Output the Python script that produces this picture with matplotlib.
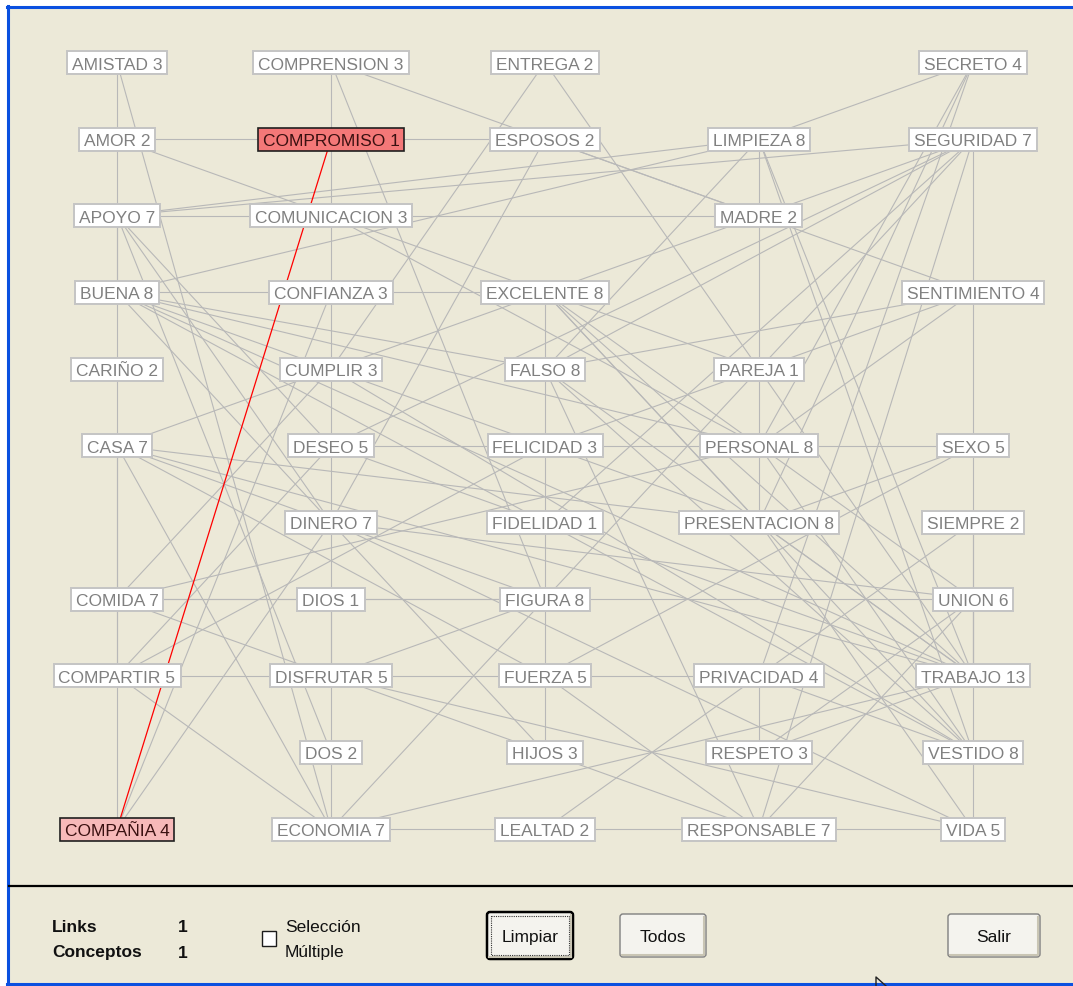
import matplotlib.pyplot as plt
from matplotlib.patches import Rectangle, FancyBboxPatch

plt.rcParams['font.family'] = ['Liberation Sans', 'DejaVu Sans']

# conceptos: nombre, numero de links, columna y fila en la rejilla
concepts = ['AMISTAD', 'AMOR', 'APOYO', 'BUENA', 'CARIÑO', 'CASA', 'COMIDA', 'COMPARTIR', 'COMPAÑIA',
            'COMPRENSION', 'COMPROMISO', 'COMUNICACION', 'CONFIANZA', 'CUMPLIR', 'DESEO', 'DINERO',
            'DIOS', 'DISFRUTAR', 'DOS', 'ECONOMIA',
            'ENTREGA', 'ESPOSOS', 'EXCELENTE', 'FALSO', 'FELICIDAD', 'FIDELIDAD', 'FIGURA', 'FUERZA',
            'HIJOS', 'LEALTAD',
            'LIMPIEZA', 'MADRE', 'PAREJA', 'PERSONAL', 'PRESENTACION', 'PRIVACIDAD', 'RESPETO', 'RESPONSABLE',
            'SECRETO', 'SEGURIDAD', 'SENTIMIENTO', 'SEXO', 'SIEMPRE', 'UNION', 'TRABAJO', 'VESTIDO', 'VIDA']
counts = [3, 2, 7, 8, 2, 7, 7, 5, 4,
          3, 1, 3, 3, 3, 5, 7, 1, 5, 2, 7,
          2, 2, 8, 8, 3, 1, 8, 5, 3, 2,
          8, 2, 1, 8, 8, 4, 3, 7,
          4, 7, 4, 5, 2, 6, 13, 8, 5]
cols = [0] * 9 + [1] * 11 + [2] * 10 + [3] * 8 + [4] * 9
rows = [0, 1, 2, 3, 4, 5, 7, 8, 10,
        0, 1, 2, 3, 4, 5, 6, 7, 8, 9, 10,
        0, 1, 3, 4, 5, 6, 7, 8, 9, 10,
        1, 2, 4, 5, 6, 8, 9, 10,
        0, 1, 3, 5, 6, 7, 8, 9, 10]

links = [
    ('AMISTAD', 'CARIÑO'), ('AMISTAD', 'ECONOMIA'),
    ('AMOR', 'ESPOSOS'), ('AMOR', 'PAREJA'),
    ('APOYO', 'BUENA'), ('APOYO', 'COMUNICACION'), ('APOYO', 'SEGURIDAD'), ('APOYO', 'LIMPIEZA'),
    ('APOYO', 'DESEO'), ('APOYO', 'DINERO'), ('APOYO', 'DOS'),
    ('BUENA', 'CONFIANZA'), ('BUENA', 'LIMPIEZA'), ('BUENA', 'PERSONAL'), ('BUENA', 'PRESENTACION'),
    ('BUENA', 'TRABAJO'), ('BUENA', 'VESTIDO'), ('BUENA', 'FALSO'), ('BUENA', 'HIJOS'),
    ('CARIÑO', 'COMIDA'),
    ('CASA', 'COMPARTIR'), ('CASA', 'EXCELENTE'), ('CASA', 'ECONOMIA'), ('CASA', 'FIGURA'),
    ('CASA', 'PRESENTACION'), ('CASA', 'TRABAJO'), ('CASA', 'FUERZA'),
    ('COMIDA', 'COMPAÑIA'), ('COMIDA', 'CUMPLIR'), ('COMIDA', 'PERSONAL'), ('COMIDA', 'UNION'),
    ('COMIDA', 'HIJOS'), ('COMIDA', 'FIGURA'),
    ('COMPARTIR', 'DISFRUTAR'), ('COMPARTIR', 'DESEO'), ('COMPARTIR', 'FELICIDAD'), ('COMPARTIR', 'ECONOMIA'),
    ('COMPAÑIA', 'CONFIANZA'), ('COMPAÑIA', 'DINERO'),
    ('COMPRENSION', 'DINERO'), ('COMPRENSION', 'SENTIMIENTO'), ('COMPRENSION', 'FIGURA'),
    ('COMUNICACION', 'MADRE'), ('COMUNICACION', 'PERSONAL'),
    ('CONFIANZA', 'EXCELENTE'),
    ('CUMPLIR', 'ENTREGA'), ('CUMPLIR', 'VESTIDO'),
    ('DESEO', 'FELICIDAD'), ('DESEO', 'TRABAJO'), ('DESEO', 'SEGURIDAD'),
    ('DINERO', 'DISFRUTAR'), ('DINERO', 'ESPOSOS'), ('DINERO', 'UNION'), ('DINERO', 'VIDA'),
    ('DIOS', 'DISFRUTAR'),
    ('DISFRUTAR', 'DOS'), ('DISFRUTAR', 'FUERZA'), ('DISFRUTAR', 'VIDA'), ('DISFRUTAR', 'FIGURA'),
    ('DOS', 'ECONOMIA'),
    ('ECONOMIA', 'LEALTAD'), ('ECONOMIA', 'TRABAJO'), ('ECONOMIA', 'FIGURA'),
    ('ENTREGA', 'TRABAJO'),
    ('ESPOSOS', 'MADRE'),
    ('EXCELENTE', 'FIGURA'), ('EXCELENTE', 'TRABAJO'), ('EXCELENTE', 'VESTIDO'),
    ('EXCELENTE', 'PRESENTACION'), ('EXCELENTE', 'SEGURIDAD'), ('EXCELENTE', 'UNION'),
    ('FALSO', 'SENTIMIENTO'), ('FALSO', 'LIMPIEZA'), ('FALSO', 'VESTIDO'), ('FALSO', 'RESPONSABLE'),
    ('FALSO', 'TRABAJO'), ('FALSO', 'SEGURIDAD'),
    ('FELICIDAD', 'PERSONAL'), ('FELICIDAD', 'SENTIMIENTO'),
    ('FIDELIDAD', 'SEGURIDAD'),
    ('FIGURA', 'SEGURIDAD'), ('FIGURA', 'HIJOS'),
    ('FUERZA', 'PRIVACIDAD'), ('FUERZA', 'RESPONSABLE'), ('FUERZA', 'SEXO'),
    ('HIJOS', 'RESPONSABLE'),
    ('LEALTAD', 'RESPONSABLE'), ('LEALTAD', 'SIEMPRE'),
    ('LIMPIEZA', 'PRESENTACION'), ('LIMPIEZA', 'SECRETO'), ('LIMPIEZA', 'TRABAJO'), ('LIMPIEZA', 'VESTIDO'),
    ('PERSONAL', 'SEXO'), ('PERSONAL', 'SENTIMIENTO'), ('PERSONAL', 'VESTIDO'), ('PERSONAL', 'SECRETO'),
    ('PRESENTACION', 'SEXO'), ('PRESENTACION', 'TRABAJO'), ('PRESENTACION', 'VIDA'),
    ('PRIVACIDAD', 'RESPETO'), ('PRIVACIDAD', 'VESTIDO'), ('PRIVACIDAD', 'SECRETO'),
    ('RESPETO', 'UNION'), ('RESPETO', 'TRABAJO'),
    ('RESPONSABLE', 'SEGURIDAD'), ('RESPONSABLE', 'UNION'), ('RESPONSABLE', 'VIDA'),
    ('SECRETO', 'PRESENTACION'),
    ('SEGURIDAD', 'SEXO'), ('SEXO', 'TRABAJO'), ('SIEMPRE', 'TRABAJO'),
    ('UNION', 'VESTIDO'), ('VESTIDO', 'VIDA'),
]
selected_link = ('COMPROMISO', 'COMPAÑIA')
selected_concepts = {'COMPROMISO': '#f47878', 'COMPAÑIA': '#f7b9b9'}

W, H = 1073, 987
fig = plt.figure(figsize=(W / 100, H / 100), dpi=100)
fig.patch.set_facecolor('white')

# ventana (coordenadas en pixeles)
win = fig.add_axes([0, 0, 1, 1])
win.set_xlim(0, W)
win.set_ylim(H, 0)
win.axis('off')
win.set_zorder(1)
win.add_patch(Rectangle((8, 8), W - 8, H - 10, facecolor='#ece9d8', edgecolor='none', zorder=0))
win.plot([8, 8], [7, H - 1], color='#0a50e0', lw=2.2, zorder=1)
win.plot([7, W], [8, 8], color='#0a50e0', lw=2.2, zorder=1)
win.plot([7, W], [H - 2, H - 2], color='#0a50e0', lw=2.2, zorder=1)
win.plot([9, W], [887, 887], color='black', lw=1.6, zorder=1)

# grafo: rejilla de 5 columnas x 11 filas
gx = fig.add_axes([0, 0, 1, 1])
gx.set_xlim(-117 / 214.0, (W - 117) / 214.0)
gx.set_ylim((H - 63.5) / 76.65, -63.5 / 76.65)
gx.axis('off')
gx.patch.set_alpha(0)
gx.set_zorder(2)

pos = {n: (c, r) for n, c, r in zip(concepts, cols, rows)}
for a, b in links:
    gx.plot([pos[a][0], pos[b][0]], [pos[a][1], pos[b][1]], color='#b8b8b8', lw=0.8, zorder=2)
a, b = selected_link
gx.plot([pos[a][0], pos[b][0]], [pos[a][1], pos[b][1]], color='#ff0000', lw=0.9, zorder=3)

texts = []
for n, k, c, r in zip(concepts, counts, cols, rows):
    col = '#3a1010' if n in selected_concepts else '#808080'
    t = gx.text(c, r, '%s %d' % (n, k), ha='center', va='center_baseline', fontsize=12.5,
                color=col, zorder=6)
    texts.append((n, t))

# cajas de los conceptos ajustadas al ancho del texto
fig.canvas.draw()
ren = fig.canvas.get_renderer()
inv = gx.transData.inverted()
for n, t in texts:
    bb = t.get_window_extent(ren)
    px, py = gx.transData.transform(pos[n])
    x0 = inv.transform((bb.x0 - 5, py))[0]
    x1 = inv.transform((bb.x1 + 5, py))[0]
    y0 = inv.transform((px, py + 11.5))[1]
    y1 = inv.transform((px, py - 11.5))[1]
    if n in selected_concepts:
        fc, ec, lw = selected_concepts[n], '#202020', 1.2
    else:
        fc, ec, lw = 'white', '#c4c4c4', 1.4
    gx.add_patch(Rectangle((x0, y0), x1 - x0, y1 - y0, facecolor=fc, edgecolor=ec, lw=lw, zorder=5))

# panel inferior
txt = '#111111'
fs = 12.5
win.text(52, 928, 'Links', fontsize=fs, fontweight='bold', color=txt, va='center')
win.text(52, 953, 'Conceptos', fontsize=fs, fontweight='bold', color=txt, va='center')
win.text(178, 928, '1', fontsize=fs, fontweight='bold', color=txt, va='center')
win.text(178, 953, '1', fontsize=fs, fontweight='bold', color=txt, va='center')
win.add_patch(Rectangle((262, 932), 14, 15, facecolor='white', edgecolor='#1c1c1c', lw=1.0, zorder=2))
win.text(285, 927, 'Selección', fontsize=fs, color=txt, va='center')
win.text(285, 952, 'Múltiple', fontsize=fs, color=txt, va='center')

buttons = [('Limpiar', 487, 913, 86, 47, True), ('Todos', 620, 915, 86, 43, False),
           ('Salir', 948, 915, 92, 43, False)]
for label, x, y, w, h, focus in buttons:
    win.add_patch(FancyBboxPatch((x, y), w, h, boxstyle='round,pad=0,rounding_size=3',
                                 facecolor='#f4f3ee', edgecolor='#000000' if focus else '#7f7f7f',
                                 lw=1.8 if focus else 1.0, zorder=2))
    win.plot([x + 2, x + w - 2], [y + h - 2, y + h - 2], color='#c9c5b4', lw=1.5, zorder=3)
    win.plot([x + w - 2, x + w - 2], [y + 3, y + h - 2], color='#c9c5b4', lw=1.5, zorder=3)
    if focus:
        win.add_patch(Rectangle((x + 4, y + 4), w - 8, h - 8, facecolor='none', edgecolor='#333333',
                                lw=0.8, ls=(0, (1, 1)), zorder=3))
    win.text(x + w / 2, y + h / 2 + 1, label, fontsize=fs, color=txt, ha='center', va='center', zorder=4)

# puntero del raton
win.plot([876, 876, 886], [987, 978, 987], color='#222222', lw=1.0, zorder=3)

fig.savefig('out.png', dpi=100, facecolor=fig.get_facecolor())
